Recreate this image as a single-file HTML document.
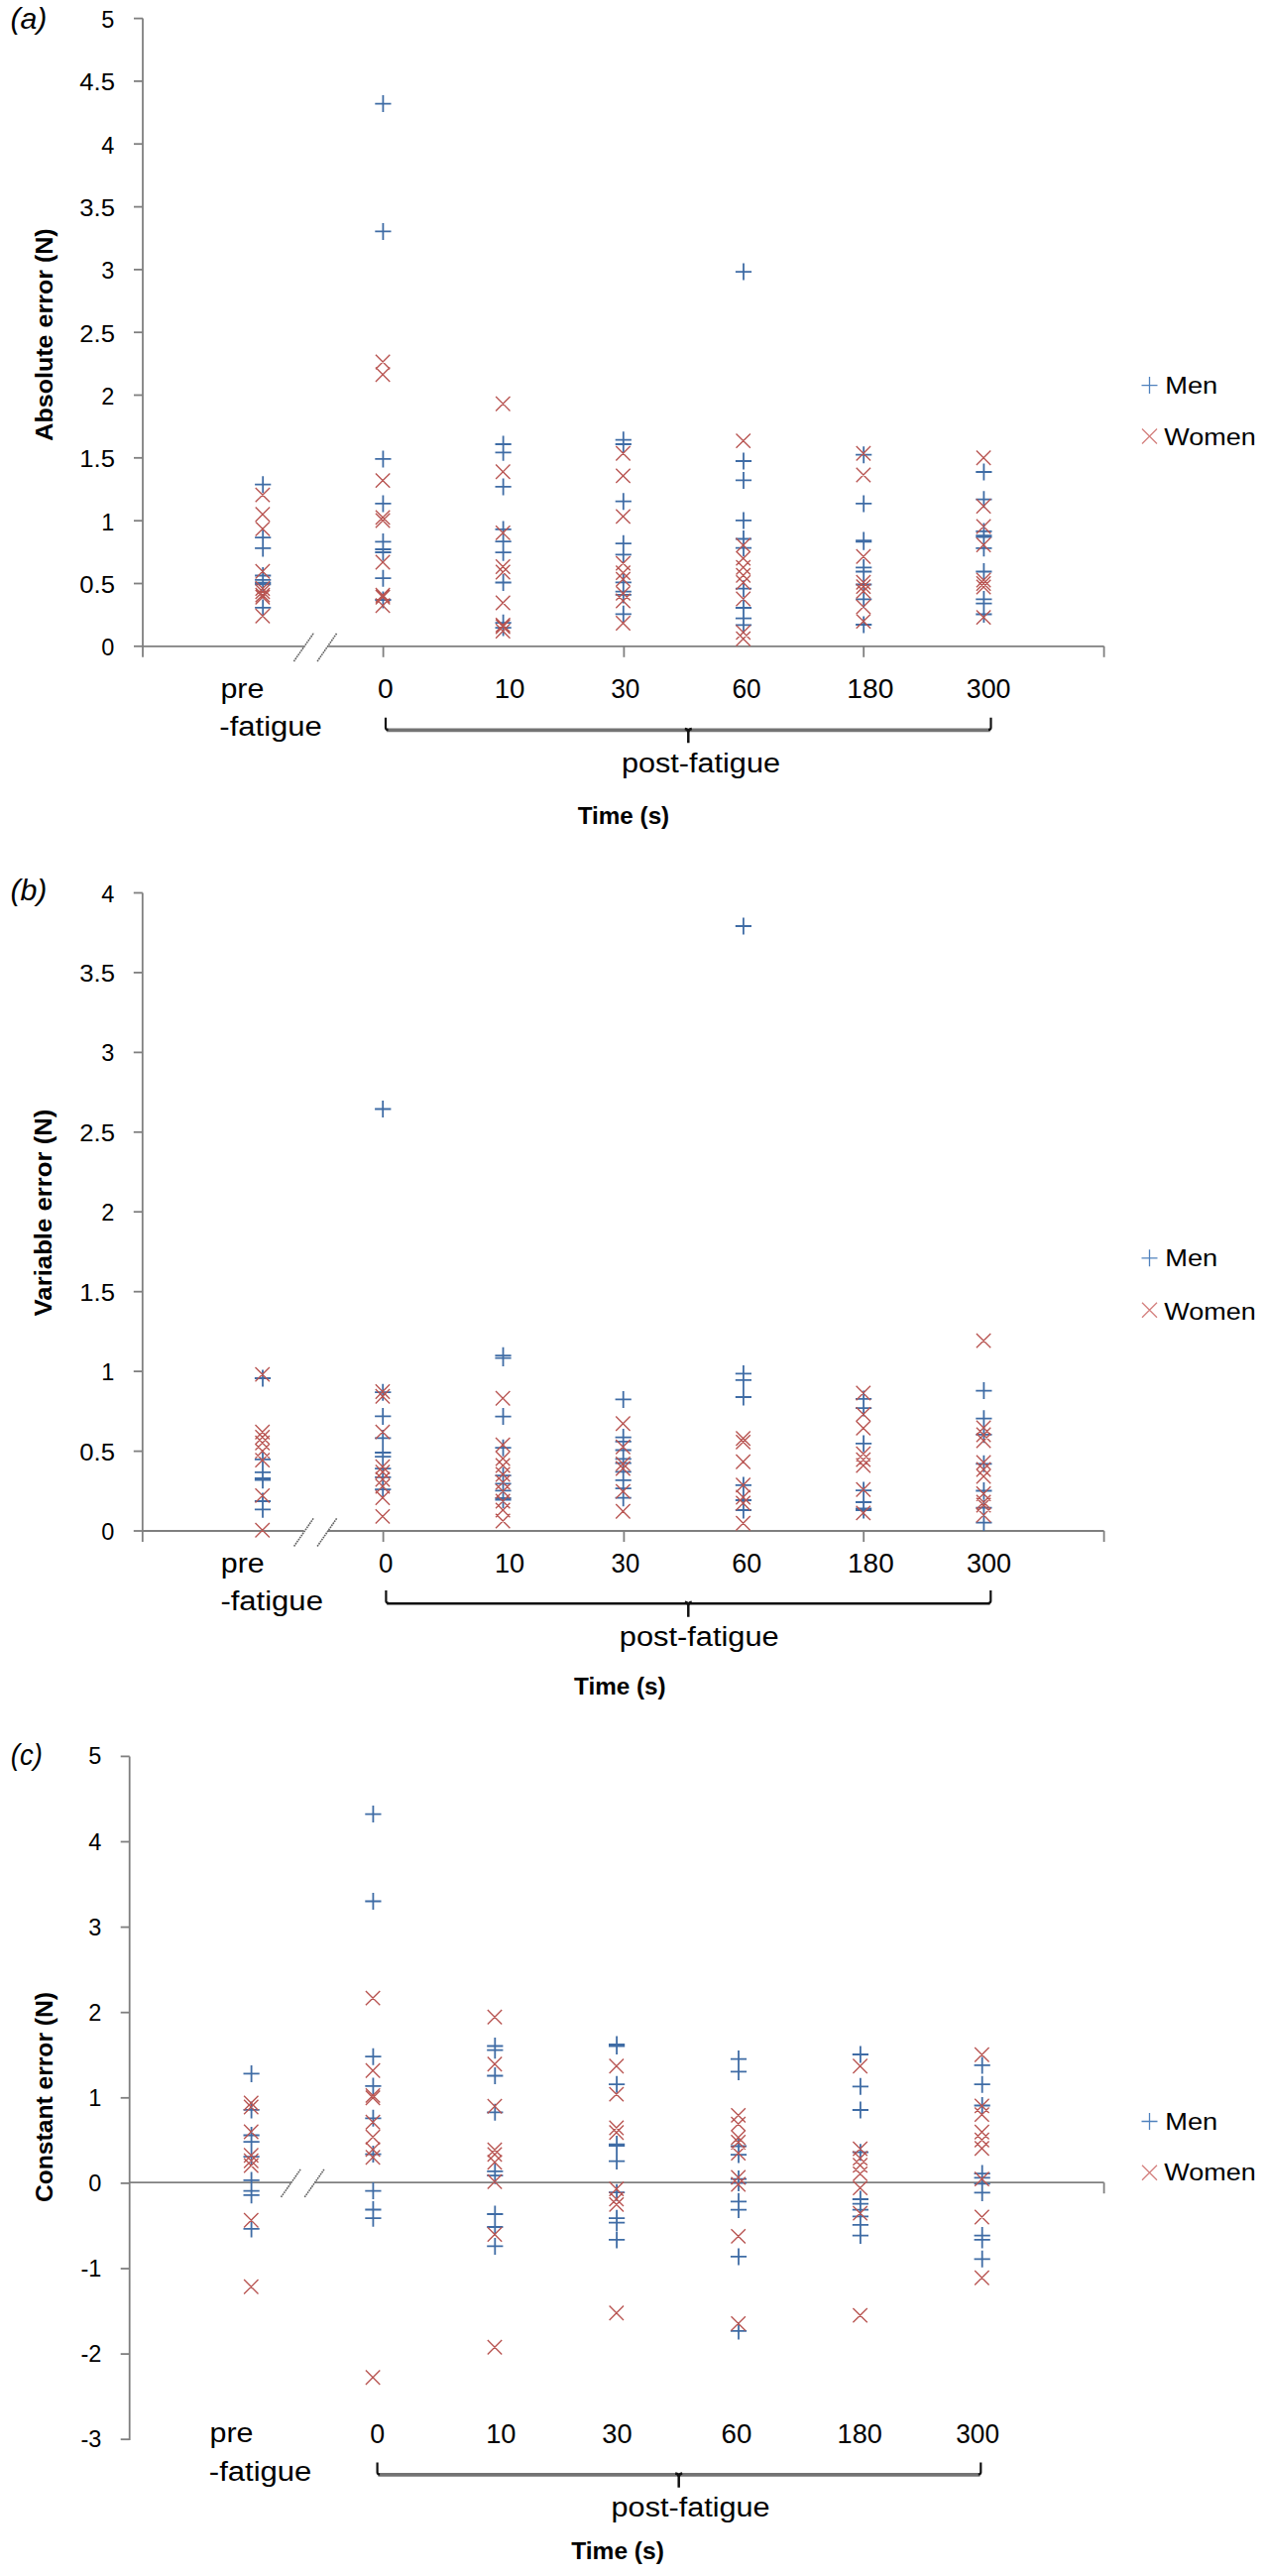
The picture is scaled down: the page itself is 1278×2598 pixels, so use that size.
<!DOCTYPE html>
<html><head><meta charset="utf-8"><title>Figure</title>
<style>html,body{margin:0;padding:0;background:#fff;}svg{display:block;}text{font-family:"Liberation Sans",Arial,sans-serif;fill:#000;}.yt{font-size:23.5px;text-anchor:end;}.xl{font-size:27px;}.ttl{font-size:24.5px;font-weight:bold;}.lg{font-size:23.5px;}.pl{font-size:30px;font-style:italic;}</style></head><body>
<svg width="1278" height="2598" viewBox="0 0 1278 2598">
<rect x="0" y="0" width="1278" height="2598" fill="#fff"/>
<line x1="144" y1="18.6" x2="144" y2="651.8" stroke="#7F7F7F" stroke-width="1.8"/>
<line x1="135" y1="651.8" x2="144" y2="651.8" stroke="#7F7F7F" stroke-width="1.8"/>
<line x1="135" y1="588.5" x2="144" y2="588.5" stroke="#7F7F7F" stroke-width="1.8"/>
<line x1="135" y1="525.2" x2="144" y2="525.2" stroke="#7F7F7F" stroke-width="1.8"/>
<line x1="135" y1="461.8" x2="144" y2="461.8" stroke="#7F7F7F" stroke-width="1.8"/>
<line x1="135" y1="398.5" x2="144" y2="398.5" stroke="#7F7F7F" stroke-width="1.8"/>
<line x1="135" y1="335.2" x2="144" y2="335.2" stroke="#7F7F7F" stroke-width="1.8"/>
<line x1="135" y1="271.9" x2="144" y2="271.9" stroke="#7F7F7F" stroke-width="1.8"/>
<line x1="135" y1="208.6" x2="144" y2="208.6" stroke="#7F7F7F" stroke-width="1.8"/>
<line x1="135" y1="145.2" x2="144" y2="145.2" stroke="#7F7F7F" stroke-width="1.8"/>
<line x1="135" y1="81.9" x2="144" y2="81.9" stroke="#7F7F7F" stroke-width="1.8"/>
<line x1="135" y1="18.6" x2="144" y2="18.6" stroke="#7F7F7F" stroke-width="1.8"/>
<line x1="144" y1="651.8" x2="306.3" y2="651.8" stroke="#7F7F7F" stroke-width="1.8"/>
<line x1="331.2" y1="651.8" x2="1113.6" y2="651.8" stroke="#7F7F7F" stroke-width="1.8"/>
<line x1="144" y1="651.8" x2="144" y2="662.8" stroke="#7F7F7F" stroke-width="1.8"/>
<line x1="386.6" y1="651.8" x2="386.6" y2="662.8" stroke="#7F7F7F" stroke-width="1.8"/>
<line x1="629.4" y1="651.8" x2="629.4" y2="662.8" stroke="#7F7F7F" stroke-width="1.8"/>
<line x1="871.2" y1="651.8" x2="871.2" y2="662.8" stroke="#7F7F7F" stroke-width="1.8"/>
<line x1="1113.6" y1="651.8" x2="1113.6" y2="662.8" stroke="#7F7F7F" stroke-width="1.8"/>
<line x1="296.4" y1="667" x2="316.6" y2="638.2" stroke="#606060" stroke-width="1.6" stroke-dasharray="1.7 0.8"/>
<line x1="320.1" y1="667" x2="339.8" y2="638.5" stroke="#606060" stroke-width="1.6" stroke-dasharray="1.7 0.8"/>
<text class="yt" x="115.3" y="661.3">0</text>
<text class="yt" x="115.9" y="598" textLength="35.6" lengthAdjust="spacingAndGlyphs">0.5</text>
<text class="yt" x="115.3" y="534.7">1</text>
<text class="yt" x="115.9" y="471.3" textLength="35.6" lengthAdjust="spacingAndGlyphs">1.5</text>
<text class="yt" x="115.3" y="408">2</text>
<text class="yt" x="115.9" y="344.7" textLength="35.6" lengthAdjust="spacingAndGlyphs">2.5</text>
<text class="yt" x="115.3" y="281.4">3</text>
<text class="yt" x="115.9" y="218.1" textLength="35.6" lengthAdjust="spacingAndGlyphs">3.5</text>
<text class="yt" x="115.3" y="154.7">4</text>
<text class="yt" x="115.9" y="91.4" textLength="35.6" lengthAdjust="spacingAndGlyphs">4.5</text>
<text class="yt" x="115.3" y="28.1">5</text>
<path d="M257.1,488.7H273.3M265.2,480.2V497.2M257.1,542.1H273.3M265.2,533.6V550.6M257.1,552.9H273.3M265.2,544.4V561.4M257.1,580.5H273.3M265.2,572V589M257.1,584.9H273.3M265.2,576.4V593.4M257.1,587.6H273.3M265.2,579.1V596.1M257.1,589.4H273.3M265.2,580.9V597.9M257.1,612.9H273.3M265.2,604.4V621.4M378.3,104.6H394.5M386.4,96.1V113.1M378.3,233.4H394.5M386.4,224.9V241.9M378.3,462.9H394.5M386.4,454.4V471.4M378.3,507.9H394.5M386.4,499.4V516.4M378.3,546.4H394.5M386.4,537.9V554.9M378.3,554H394.5M386.4,545.5V562.5M378.3,557H394.5M386.4,548.5V565.5M378.3,583.2H394.5M386.4,574.7V591.7M378.3,605H394.5M386.4,596.5V613.5M499.5,448H515.7M507.6,439.5V456.5M499.5,456.3H515.7M507.6,447.8V464.8M499.5,490.9H515.7M507.6,482.4V499.4M499.5,533.9H515.7M507.6,525.4V542.4M499.5,546.2H515.7M507.6,537.7V554.7M499.5,557.2H515.7M507.6,548.7V565.7M499.5,587.5H515.7M507.6,579V596M499.5,628.2H515.7M507.6,619.7V636.7M499.5,633.1H515.7M507.6,624.6V641.6M620.7,443.7H636.9M628.8,435.2V452.2M620.7,448H636.9M628.8,439.5V456.5M620.7,505.7H636.9M628.8,497.2V514.2M620.7,548.2H636.9M628.8,539.7V556.7M620.7,559.4H636.9M628.8,550.9V567.9M620.7,587.3H636.9M628.8,578.8V595.8M620.7,596.6H636.9M628.8,588.1V605.1M620.7,599.9H636.9M628.8,591.4V608.4M620.7,619.3H636.9M628.8,610.8V627.8M741.9,274.1H758.1M750,265.6V282.6M741.9,465H758.1M750,456.5V473.5M741.9,484.4H758.1M750,475.9V492.9M741.9,524.9H758.1M750,516.4V533.4M741.9,543.5H758.1M750,535V552M741.9,552.7H758.1M750,544.2V561.2M741.9,593.7H758.1M750,585.2V602.2M741.9,613H758.1M750,604.5V621.5M741.9,623.7H758.1M750,615.2V632.2M741.9,630.4H758.1M750,621.9V638.9M863.1,458.7H879.3M871.2,450.2V467.2M863.1,507.9H879.3M871.2,499.4V516.4M863.1,545.1H879.3M871.2,536.6V553.6M863.1,546.3H879.3M871.2,537.8V554.8M863.1,572.4H879.3M871.2,563.9V580.9M863.1,576.5H879.3M871.2,568V585M863.1,589.5H879.3M871.2,581V598M863.1,604.4H879.3M871.2,595.9V612.9M863.1,630H879.3M871.2,621.5V638.5M984.3,476H1000.5M992.4,467.5V484.5M984.3,503.7H1000.5M992.4,495.2V512.2M984.3,535.9H1000.5M992.4,527.4V544.4M984.3,540.2H1000.5M992.4,531.7V548.7M984.3,541.6H1000.5M992.4,533.1V550.1M984.3,552.8H1000.5M992.4,544.3V561.3M984.3,576.5H1000.5M992.4,568V585M984.3,604.4H1000.5M992.4,595.9V612.9M984.3,608.7H1000.5M992.4,600.2V617.2M984.3,619.5H1000.5M992.4,611V628" stroke="#3F6CA5" stroke-width="1.8" fill="none"/>
<path d="M257.7,491.9L272.1,506.3M257.7,506.3L272.1,491.9M257.7,511.5L272.1,525.9M257.7,525.9L272.1,511.5M257.7,526.2L272.1,540.6M257.7,540.6L272.1,526.2M257.7,569L272.1,583.4M257.7,583.4L272.1,569M257.7,586.3L272.1,600.7M257.7,600.7L272.1,586.3M257.7,589.5L272.1,603.9M257.7,603.9L272.1,589.5M257.7,592.9L272.1,607.3M257.7,607.3L272.1,592.9M257.7,595L272.1,609.4M257.7,609.4L272.1,595M257.7,614L272.1,628.4M257.7,628.4L272.1,614M378.9,357.8L393.3,372.2M378.9,372.2L393.3,357.8M378.9,370.6L393.3,385M378.9,385L393.3,370.6M378.9,477.4L393.3,491.8M378.9,491.8L393.3,477.4M378.9,514.7L393.3,529.1M378.9,529.1L393.3,514.7M378.9,517.8L393.3,532.2M378.9,532.2L393.3,517.8M378.9,559.8L393.3,574.2M378.9,574.2L393.3,559.8M378.9,593.1L393.3,607.5M378.9,607.5L393.3,593.1M378.9,595.1L393.3,609.5M378.9,609.5L393.3,595.1M378.9,603.6L393.3,618M378.9,618L393.3,603.6M500.1,400L514.5,414.4M500.1,414.4L514.5,400M500.1,468.6L514.5,483M500.1,483L514.5,468.6M500.1,530.2L514.5,544.6M500.1,544.6L514.5,530.2M500.1,564.3L514.5,578.7M500.1,578.7L514.5,564.3M500.1,569.8L514.5,584.2M500.1,584.2L514.5,569.8M500.1,600.8L514.5,615.2M500.1,615.2L514.5,600.8M500.1,623.2L514.5,637.6M500.1,637.6L514.5,623.2M500.1,624.8L514.5,639.2M500.1,639.2L514.5,624.8M500.1,629.3L514.5,643.7M500.1,643.7L514.5,629.3M621.3,450L635.7,464.4M621.3,464.4L635.7,450M621.3,472.7L635.7,487.1M621.3,487.1L635.7,472.7M621.3,513.7L635.7,528.1M621.3,528.1L635.7,513.7M621.3,560.9L635.7,575.3M621.3,575.3L635.7,560.9M621.3,570.4L635.7,584.8M621.3,584.8L635.7,570.4M621.3,577L635.7,591.4M621.3,591.4L635.7,577M621.3,591.2L635.7,605.6M621.3,605.6L635.7,591.2M621.3,598.8L635.7,613.2M621.3,613.2L635.7,598.8M621.3,621.3L635.7,635.7M621.3,635.7L635.7,621.3M742.5,437.4L756.9,451.8M742.5,451.8L756.9,437.4M742.5,542.7L756.9,557.1M742.5,557.1L756.9,542.7M742.5,555.9L756.9,570.3M742.5,570.3L756.9,555.9M742.5,565.1L756.9,579.5M742.5,579.5L756.9,565.1M742.5,573.1L756.9,587.5M742.5,587.5L756.9,573.1M742.5,580.3L756.9,594.7M742.5,594.7L756.9,580.3M742.5,596.8L756.9,611.2M742.5,611.2L756.9,596.8M742.5,630.5L756.9,644.9M742.5,644.9L756.9,630.5M742.5,637L756.9,651.4M742.5,651.4L756.9,637M863.7,450.1L878.1,464.5M863.7,464.5L878.1,450.1M863.7,471.8L878.1,486.2M863.7,486.2L878.1,471.8M863.7,554.1L878.1,568.5M863.7,568.5L878.1,554.1M863.7,580.1L878.1,594.5M863.7,594.5L878.1,580.1M863.7,584.4L878.1,598.8M863.7,598.8L878.1,584.4M863.7,589.1L878.1,603.5M863.7,603.5L878.1,589.1M863.7,604.8L878.1,619.2M863.7,619.2L878.1,604.8M863.7,619.4L878.1,633.8M863.7,633.8L878.1,619.4M984.9,454.6L999.3,469M984.9,469L999.3,454.6M984.9,503.3L999.3,517.7M984.9,517.7L999.3,503.3M984.9,523.8L999.3,538.2M984.9,538.2L999.3,523.8M984.9,542.3L999.3,556.7M984.9,556.7L999.3,542.3M984.9,577.8L999.3,592.2M984.9,592.2L999.3,577.8M984.9,581.3L999.3,595.7M984.9,595.7L999.3,581.3M984.9,584.8L999.3,599.2M984.9,599.2L999.3,584.8M984.9,615.4L999.3,629.8M984.9,629.8L999.3,615.4" stroke="#B85451" stroke-width="1.35" fill="none"/>
<line x1="143.8" y1="900.5" x2="143.8" y2="1544" stroke="#7F7F7F" stroke-width="1.8"/>
<line x1="134.8" y1="1544" x2="143.8" y2="1544" stroke="#7F7F7F" stroke-width="1.8"/>
<line x1="134.8" y1="1463.6" x2="143.8" y2="1463.6" stroke="#7F7F7F" stroke-width="1.8"/>
<line x1="134.8" y1="1383.1" x2="143.8" y2="1383.1" stroke="#7F7F7F" stroke-width="1.8"/>
<line x1="134.8" y1="1302.7" x2="143.8" y2="1302.7" stroke="#7F7F7F" stroke-width="1.8"/>
<line x1="134.8" y1="1222.2" x2="143.8" y2="1222.2" stroke="#7F7F7F" stroke-width="1.8"/>
<line x1="134.8" y1="1141.8" x2="143.8" y2="1141.8" stroke="#7F7F7F" stroke-width="1.8"/>
<line x1="134.8" y1="1061.4" x2="143.8" y2="1061.4" stroke="#7F7F7F" stroke-width="1.8"/>
<line x1="134.8" y1="980.9" x2="143.8" y2="980.9" stroke="#7F7F7F" stroke-width="1.8"/>
<line x1="134.8" y1="900.5" x2="143.8" y2="900.5" stroke="#7F7F7F" stroke-width="1.8"/>
<line x1="143.8" y1="1544" x2="306.5" y2="1544" stroke="#7F7F7F" stroke-width="1.8"/>
<line x1="330.8" y1="1544" x2="1113.6" y2="1544" stroke="#7F7F7F" stroke-width="1.8"/>
<line x1="143.8" y1="1544" x2="143.8" y2="1555" stroke="#7F7F7F" stroke-width="1.8"/>
<line x1="386.6" y1="1544" x2="386.6" y2="1555" stroke="#7F7F7F" stroke-width="1.8"/>
<line x1="629.4" y1="1544" x2="629.4" y2="1555" stroke="#7F7F7F" stroke-width="1.8"/>
<line x1="871.2" y1="1544" x2="871.2" y2="1555" stroke="#7F7F7F" stroke-width="1.8"/>
<line x1="1113.6" y1="1544" x2="1113.6" y2="1555" stroke="#7F7F7F" stroke-width="1.8"/>
<line x1="296.6" y1="1559.5" x2="316.2" y2="1531.3" stroke="#606060" stroke-width="1.6" stroke-dasharray="1.7 0.8"/>
<line x1="320.1" y1="1559.5" x2="339.7" y2="1531.3" stroke="#606060" stroke-width="1.6" stroke-dasharray="1.7 0.8"/>
<text class="yt" x="115.3" y="1553">0</text>
<text class="yt" x="115.9" y="1472.6" textLength="35.6" lengthAdjust="spacingAndGlyphs">0.5</text>
<text class="yt" x="115.3" y="1392.1">1</text>
<text class="yt" x="115.9" y="1311.7" textLength="35.6" lengthAdjust="spacingAndGlyphs">1.5</text>
<text class="yt" x="115.3" y="1231.2">2</text>
<text class="yt" x="115.9" y="1150.8" textLength="35.6" lengthAdjust="spacingAndGlyphs">2.5</text>
<text class="yt" x="115.3" y="1070.4">3</text>
<text class="yt" x="115.9" y="989.9" textLength="35.6" lengthAdjust="spacingAndGlyphs">3.5</text>
<text class="yt" x="115.3" y="909.5">4</text>
<path d="M256.9,1390H273.1M265,1381.5V1398.5M256.9,1471.8H273.1M265,1463.3V1480.3M256.9,1484.9H273.1M265,1476.4V1493.4M256.9,1490.8H273.1M265,1482.3V1499.3M256.9,1492.7H273.1M265,1484.2V1501.2M256.9,1514H273.1M265,1505.5V1522.5M256.9,1522.3H273.1M265,1513.8V1530.8M378.1,1118.5H394.4M386.2,1110V1127M378.1,1404.2H394.4M386.2,1395.7V1412.7M378.1,1428.4H394.4M386.2,1419.9V1436.9M378.1,1450.4H394.4M386.2,1441.9V1458.9M378.1,1465H394.4M386.2,1456.5V1473.5M378.1,1469.2H394.4M386.2,1460.7V1477.7M378.1,1481.1H394.4M386.2,1472.6V1489.6M378.1,1489.8H394.4M386.2,1481.3V1498.3M378.1,1502.1H394.4M386.2,1493.6V1510.6M499.4,1367.2H515.6M507.5,1358.7V1375.7M499.4,1369.6H515.6M507.5,1361.1V1378.1M499.4,1428.6H515.6M507.5,1420.1V1437.1M499.4,1460.2H515.6M507.5,1451.7V1468.7M499.4,1488.2H515.6M507.5,1479.7V1496.7M499.4,1496.3H515.6M507.5,1487.8V1504.8M499.4,1503.4H515.6M507.5,1494.9V1511.9M499.4,1511H515.6M507.5,1502.5V1519.5M499.4,1512.5H515.6M507.5,1504V1521M620.6,1411.4H636.8M628.7,1402.9V1419.9M620.6,1449.6H636.8M628.7,1441.1V1458.1M620.6,1453.9H636.8M628.7,1445.4V1462.4M620.6,1462.5H636.8M628.7,1454V1471M620.6,1471.4H636.8M628.7,1462.9V1479.9M620.6,1475.7H636.8M628.7,1467.2V1484.2M620.6,1484.3H636.8M628.7,1475.8V1492.8M620.6,1492.9H636.8M628.7,1484.4V1501.4M620.6,1501.1H636.8M628.7,1492.6V1509.6M620.6,1510.7H636.8M628.7,1502.2V1519.2M741.8,934H758M749.9,925.5V942.5M741.8,1385.4H758M749.9,1376.9V1393.9M741.8,1391.9H758M749.9,1383.4V1400.4M741.8,1409H758M749.9,1400.5V1417.5M741.8,1497.9H758M749.9,1489.4V1506.4M741.8,1513H758M749.9,1504.5V1521.5M741.8,1523H758M749.9,1514.5V1531.5M863,1410.9H879.2M871.1,1402.4V1419.4M863,1420.1H879.2M871.1,1411.6V1428.6M863,1455.9H879.2M871.1,1447.4V1464.4M863,1503.1H879.2M871.1,1494.6V1511.6M863,1515H879.2M871.1,1506.5V1523.5M863,1521.4H879.2M871.1,1512.9V1529.9M863,1523H879.2M871.1,1514.5V1531.5M984.3,1402.6H1000.5M992.4,1394.1V1411.1M984.3,1430.7H1000.5M992.4,1422.2V1439.2M984.3,1446.8H1000.5M992.4,1438.3V1455.3M984.3,1476.3H1000.5M992.4,1467.8V1484.8M984.3,1503.5H1000.5M992.4,1495V1512M984.3,1520.7H1000.5M992.4,1512.2V1529.2M984.3,1535.6H1000.5M992.4,1527.1V1544.1" stroke="#3F6CA5" stroke-width="1.8" fill="none"/>
<path d="M257.5,1378.9L271.9,1393.3M257.5,1393.3L271.9,1378.9M257.5,1437L271.9,1451.4M257.5,1451.4L271.9,1437M257.5,1442.3L271.9,1456.7M257.5,1456.7L271.9,1442.3M257.5,1448.1L271.9,1462.5M257.5,1462.5L271.9,1448.1M257.5,1456.3L271.9,1470.7M257.5,1470.7L271.9,1456.3M257.5,1465.4L271.9,1479.8M257.5,1479.8L271.9,1465.4M257.5,1501.2L271.9,1515.6M257.5,1515.6L271.9,1501.2M257.5,1536.1L271.9,1550.5M257.5,1550.5L271.9,1536.1M378.8,1396.3L393.1,1410.7M378.8,1410.7L393.1,1396.3M378.8,1401L393.1,1415.4M378.8,1415.4L393.1,1401M378.8,1436.9L393.1,1451.3M378.8,1451.3L393.1,1436.9M378.8,1472.1L393.1,1486.5M378.8,1486.5L393.1,1472.1M378.8,1477.4L393.1,1491.8M378.8,1491.8L393.1,1477.4M378.8,1484.8L393.1,1499.2M378.8,1499.2L393.1,1484.8M378.8,1491.8L393.1,1506.2M378.8,1506.2L393.1,1491.8M378.8,1503.3L393.1,1517.7M378.8,1517.7L393.1,1503.3M378.8,1522.2L393.1,1536.6M378.8,1536.6L393.1,1522.2M500,1403L514.4,1417.4M500,1417.4L514.4,1403M500,1449.9L514.4,1464.3M500,1464.3L514.4,1449.9M500,1463.8L514.4,1478.2M500,1478.2L514.4,1463.8M500,1470.8L514.4,1485.2M500,1485.2L514.4,1470.8M500,1479.8L514.4,1494.2M500,1494.2L514.4,1479.8M500,1487.8L514.4,1502.2M500,1502.2L514.4,1487.8M500,1496.8L514.4,1511.2M500,1511.2L514.4,1496.8M500,1506.8L514.4,1521.2M500,1521.2L514.4,1506.8M500,1515.8L514.4,1530.2M500,1530.2L514.4,1515.8M500,1526.8L514.4,1541.2M500,1541.2L514.4,1526.8M621.2,1428.6L635.6,1443M621.2,1443L635.6,1428.6M621.2,1452L635.6,1466.4M621.2,1466.4L635.6,1452M621.2,1469.2L635.6,1483.6M621.2,1483.6L635.6,1469.2M621.2,1473.8L635.6,1488.2M621.2,1488.2L635.6,1473.8M621.2,1496.9L635.6,1511.3M621.2,1511.3L635.6,1496.9M621.2,1517L635.6,1531.4M621.2,1531.4L635.6,1517M742.4,1443.5L756.8,1457.9M742.4,1457.9L756.8,1443.5M742.4,1447.2L756.8,1461.6M742.4,1461.6L756.8,1447.2M742.4,1467.1L756.8,1481.5M742.4,1481.5L756.8,1467.1M742.4,1490.6L756.8,1505M742.4,1505L756.8,1490.6M742.4,1502.8L756.8,1517.2M742.4,1517.2L756.8,1502.8M742.4,1508.8L756.8,1523.2M742.4,1523.2L756.8,1508.8M742.4,1529.1L756.8,1543.5M742.4,1543.5L756.8,1529.1M863.6,1397.8L878,1412.2M863.6,1412.2L878,1397.8M863.6,1419.2L878,1433.6M863.6,1433.6L878,1419.2M863.6,1433.2L878,1447.6M863.6,1447.6L878,1433.2M863.6,1459L878,1473.4M863.6,1473.4L878,1459M863.6,1464.9L878,1479.3M863.6,1479.3L878,1464.9M863.6,1470.8L878,1485.2M863.6,1485.2L878,1470.8M863.6,1495.1L878,1509.5M863.6,1509.5L878,1495.1M863.6,1518.7L878,1533.1M863.6,1533.1L878,1518.7M984.9,1344.9L999.3,1359.3M984.9,1359.3L999.3,1344.9M984.9,1432.8L999.3,1447.2M984.9,1447.2L999.3,1432.8M984.9,1439.8L999.3,1454.2M984.9,1454.2L999.3,1439.8M984.9,1445.8L999.3,1460.2M984.9,1460.2L999.3,1445.8M984.9,1467.8L999.3,1482.2M984.9,1482.2L999.3,1467.8M984.9,1474.8L999.3,1489.2M984.9,1489.2L999.3,1474.8M984.9,1481.8L999.3,1496.2M984.9,1496.2L999.3,1481.8M984.9,1499.3L999.3,1513.7M984.9,1513.7L999.3,1499.3M984.9,1507.8L999.3,1522.2M984.9,1522.2L999.3,1507.8M984.9,1510.8L999.3,1525.2M984.9,1525.2L999.3,1510.8M984.9,1520.8L999.3,1535.2M984.9,1535.2L999.3,1520.8" stroke="#B85451" stroke-width="1.35" fill="none"/>
<line x1="130.7" y1="1771.4" x2="130.7" y2="2461.1" stroke="#7F7F7F" stroke-width="1.8"/>
<line x1="121.7" y1="2460.2" x2="130.7" y2="2460.2" stroke="#7F7F7F" stroke-width="1.8"/>
<line x1="121.7" y1="2374.1" x2="130.7" y2="2374.1" stroke="#7F7F7F" stroke-width="1.8"/>
<line x1="121.7" y1="2288" x2="130.7" y2="2288" stroke="#7F7F7F" stroke-width="1.8"/>
<line x1="121.7" y1="2201.9" x2="130.7" y2="2201.9" stroke="#7F7F7F" stroke-width="1.8"/>
<line x1="121.7" y1="2115.8" x2="130.7" y2="2115.8" stroke="#7F7F7F" stroke-width="1.8"/>
<line x1="121.7" y1="2029.7" x2="130.7" y2="2029.7" stroke="#7F7F7F" stroke-width="1.8"/>
<line x1="121.7" y1="1943.6" x2="130.7" y2="1943.6" stroke="#7F7F7F" stroke-width="1.8"/>
<line x1="121.7" y1="1857.5" x2="130.7" y2="1857.5" stroke="#7F7F7F" stroke-width="1.8"/>
<line x1="121.7" y1="1771.4" x2="130.7" y2="1771.4" stroke="#7F7F7F" stroke-width="1.8"/>
<line x1="130.7" y1="2201.2" x2="293.8" y2="2201.2" stroke="#7F7F7F" stroke-width="1.8"/>
<line x1="317.5" y1="2201.2" x2="1113.6" y2="2201.2" stroke="#7F7F7F" stroke-width="1.8"/>
<line x1="1113.6" y1="2201.2" x2="1113.6" y2="2212.2" stroke="#7F7F7F" stroke-width="1.8"/>
<line x1="283.5" y1="2215.9" x2="303.1" y2="2188" stroke="#606060" stroke-width="1.6" stroke-dasharray="1.7 0.8"/>
<line x1="307.3" y1="2215.9" x2="326.9" y2="2188" stroke="#606060" stroke-width="1.6" stroke-dasharray="1.7 0.8"/>
<text class="yt" x="102.3" y="2468.2">-3</text>
<text class="yt" x="102.3" y="2382.1">-2</text>
<text class="yt" x="102.3" y="2296">-1</text>
<text class="yt" x="102.3" y="2209.9">0</text>
<text class="yt" x="102.3" y="2123.8">1</text>
<text class="yt" x="102.3" y="2037.7">2</text>
<text class="yt" x="102.3" y="1951.6">3</text>
<text class="yt" x="102.3" y="1865.5">4</text>
<text class="yt" x="102.3" y="1779.4">5</text>
<path d="M245.5,2091.4H261.7M253.6,2082.9V2099.9M245.5,2127.9H261.7M253.6,2119.4V2136.4M245.5,2153.5H261.7M253.6,2145V2162M245.5,2160.2H261.7M253.6,2151.7V2168.7M245.5,2175.2H261.7M253.6,2166.7V2183.7M245.5,2198.9H261.7M253.6,2190.4V2207.4M245.5,2209.6H261.7M253.6,2201.1V2218.1M245.5,2213.8H261.7M253.6,2205.3V2222.3M245.5,2247.9H261.7M253.6,2239.4V2256.4M368.3,1829.6H384.5M376.4,1821.1V1838.1M368.3,1917.5H384.5M376.4,1909V1926M368.3,2074.2H384.5M376.4,2065.7V2082.7M368.3,2103.9H384.5M376.4,2095.4V2112.4M368.3,2136.3H384.5M376.4,2127.8V2144.8M368.3,2172.6H384.5M376.4,2164.1V2181.1M368.3,2209.6H384.5M376.4,2201.1V2218.1M368.3,2228.5H384.5M376.4,2220V2237M368.3,2237.2H384.5M376.4,2228.7V2245.7M491.2,2063.5H507.4M499.3,2055V2072M491.2,2067.7H507.4M499.3,2059.2V2076.2M491.2,2093.5H507.4M499.3,2085V2102M491.2,2130.3H507.4M499.3,2121.8V2138.8M491.2,2189.8H507.4M499.3,2181.3V2198.3M491.2,2194.2H507.4M499.3,2185.7V2202.7M491.2,2233H507.4M499.3,2224.5V2241.5M491.2,2246H507.4M499.3,2237.5V2254.5M491.2,2265.4H507.4M499.3,2256.9V2273.9M614,2062H630.2M622.1,2053.5V2070.5M614,2063.5H630.2M622.1,2055V2072M614,2102.2H630.2M622.1,2093.7V2110.7M614,2162.6H630.2M622.1,2154.1V2171.1M614,2164.2H630.2M622.1,2155.7V2172.7M614,2179.6H630.2M622.1,2171.1V2188.1M614,2211.2H630.2M622.1,2202.7V2219.7M614,2237.2H630.2M622.1,2228.7V2245.7M614,2241.6H630.2M622.1,2233.1V2250.1M614,2258.9H630.2M622.1,2250.4V2267.4M736.9,2076.6H753.1M745,2068.1V2085.1M736.9,2089.4H753.1M745,2080.9V2097.9M736.9,2164.5H753.1M745,2156V2173M736.9,2173.1H753.1M745,2164.6V2181.6M736.9,2197.6H753.1M745,2189.1V2206.1M736.9,2201.6H753.1M745,2193.1V2210.1M736.9,2220.3H753.1M745,2211.8V2228.8M736.9,2228.6H753.1M745,2220.1V2237.1M736.9,2275.9H753.1M745,2267.4V2284.4M736.9,2350.9H753.1M745,2342.4V2359.4M859.8,2072H876M867.9,2063.5V2080.5M859.8,2104.3H876M867.9,2095.8V2112.8M859.8,2128H876M867.9,2119.5V2136.5M859.8,2170.7H876M867.9,2162.2V2179.2M859.8,2218H876M867.9,2209.5V2226.5M859.8,2222.7H876M867.9,2214.2V2231.2M859.8,2228.6H876M867.9,2220.1V2237.1M859.8,2235.3H876M867.9,2226.8V2243.8M859.8,2243.9H876M867.9,2235.4V2252.4M859.8,2254.6H876M867.9,2246.1V2263.1M982.6,2082.9H998.8M990.7,2074.4V2091.4M982.6,2102.2H998.8M990.7,2093.7V2110.7M982.6,2123.5H998.8M990.7,2115V2132M982.6,2192.1H998.8M990.7,2183.6V2200.6M982.6,2196.4H998.8M990.7,2187.9V2204.9M982.6,2202.4H998.8M990.7,2193.9V2210.9M982.6,2211.4H998.8M990.7,2202.9V2219.9M982.6,2254.6H998.8M990.7,2246.1V2263.1M982.6,2258.9H998.8M990.7,2250.4V2267.4M982.6,2278.3H998.8M990.7,2269.8V2286.8" stroke="#3F6CA5" stroke-width="1.8" fill="none"/>
<path d="M246.1,2113.8L260.5,2128.2M246.1,2128.2L260.5,2113.8M246.1,2117.8L260.5,2132.2M246.1,2132.2L260.5,2117.8M246.1,2142.8L260.5,2157.2M246.1,2157.2L260.5,2142.8M246.1,2166.5L260.5,2180.9M246.1,2180.9L260.5,2166.5M246.1,2172L260.5,2186.4M246.1,2186.4L260.5,2172M246.1,2176.8L260.5,2191.2M246.1,2191.2L260.5,2176.8M246.1,2232L260.5,2246.4M246.1,2246.4L260.5,2232M246.1,2299.1L260.5,2313.5M246.1,2313.5L260.5,2299.1M368.9,2007.9L383.3,2022.3M368.9,2022.3L383.3,2007.9M368.9,2081L383.3,2095.4M368.9,2095.4L383.3,2081M368.9,2106.2L383.3,2120.6M368.9,2120.6L383.3,2106.2M368.9,2108.6L383.3,2123M368.9,2123L383.3,2108.6M368.9,2133L383.3,2147.4M368.9,2147.4L383.3,2133M368.9,2148L383.3,2162.4M368.9,2162.4L383.3,2148M368.9,2160.7L383.3,2175.1M368.9,2175.1L383.3,2160.7M368.9,2168.6L383.3,2183M368.9,2183L383.3,2168.6M368.9,2390.6L383.3,2405M368.9,2405L383.3,2390.6M491.8,2027.1L506.2,2041.5M491.8,2041.5L506.2,2027.1M491.8,2074.5L506.2,2088.9M491.8,2088.9L506.2,2074.5M491.8,2117.1L506.2,2131.5M491.8,2131.5L506.2,2117.1M491.8,2160.9L506.2,2175.3M491.8,2175.3L506.2,2160.9M491.8,2165.7L506.2,2180.1M491.8,2180.1L506.2,2165.7M491.8,2173.6L506.2,2188M491.8,2188L506.2,2173.6M491.8,2193.1L506.2,2207.5M491.8,2207.5L506.2,2193.1M491.8,2246.3L506.2,2260.7M491.8,2260.7L506.2,2246.3M491.8,2360L506.2,2374.4M491.8,2374.4L506.2,2360M614.6,2076.5L629,2090.9M614.6,2090.9L629,2076.5M614.6,2104.9L629,2119.3M614.6,2119.3L629,2104.9M614.6,2138.8L629,2153.2M614.6,2153.2L629,2138.8M614.6,2143.6L629,2158M614.6,2158L629,2143.6M614.6,2200.4L629,2214.8M614.6,2214.8L629,2200.4M614.6,2210.7L629,2225.1M614.6,2225.1L629,2210.7M614.6,2216.2L629,2230.6M614.6,2230.6L629,2216.2M614.6,2325.5L629,2339.9M614.6,2339.9L629,2325.5M737.5,2126.2L751.9,2140.6M737.5,2140.6L751.9,2126.2M737.5,2134.9L751.9,2149.3M737.5,2149.3L751.9,2134.9M737.5,2148.6L751.9,2163M737.5,2163L751.9,2148.6M737.5,2153.3L751.9,2167.7M737.5,2167.7L751.9,2153.3M737.5,2164.4L751.9,2178.8M737.5,2178.8L751.9,2164.4M737.5,2188.8L751.9,2203.2M737.5,2203.2L751.9,2188.8M737.5,2195.8L751.9,2210.2M737.5,2210.2L751.9,2195.8M737.5,2248.2L751.9,2262.6M737.5,2262.6L751.9,2248.2M737.5,2336.2L751.9,2350.6M737.5,2350.6L751.9,2336.2M860.4,2076.6L874.8,2091M860.4,2091L874.8,2076.6M860.4,2159.9L874.8,2174.3M860.4,2174.3L874.8,2159.9M860.4,2169.4L874.8,2183.8M860.4,2183.8L874.8,2169.4M860.4,2176.5L874.8,2190.9M860.4,2190.9L874.8,2176.5M860.4,2185.2L874.8,2199.6M860.4,2199.6L874.8,2185.2M860.4,2199.4L874.8,2213.8M860.4,2213.8L874.8,2199.4M860.4,2224.9L874.8,2239.3M860.4,2239.3L874.8,2224.9M860.4,2327.9L874.8,2342.3M860.4,2342.3L874.8,2327.9M983.2,2065L997.6,2079.4M983.2,2079.4L997.6,2065M983.2,2116.7L997.6,2131.1M983.2,2131.1L997.6,2116.7M983.2,2125.4L997.6,2139.8M983.2,2139.8L997.6,2125.4M983.2,2143.1L997.6,2157.5M983.2,2157.5L997.6,2143.1M983.2,2151L997.6,2165.4M983.2,2165.4L997.6,2151M983.2,2159.6L997.6,2174M983.2,2174L997.6,2159.6M983.2,2190.4L997.6,2204.8M983.2,2204.8L997.6,2190.4M983.2,2228.8L997.6,2243.2M983.2,2243.2L997.6,2228.8M983.2,2290L997.6,2304.4M983.2,2304.4L997.6,2290" stroke="#B85451" stroke-width="1.35" fill="none"/>
<text class="pl" x="10.4" y="28.8" textLength="37" lengthAdjust="spacingAndGlyphs">(a)</text>
<text class="xl" x="222.4" y="703.9" textLength="44" lengthAdjust="spacingAndGlyphs">pre</text>
<text class="xl" x="221.3" y="742.3" textLength="103.5" lengthAdjust="spacingAndGlyphs">-fatigue</text>
<text class="xl" x="380.9" y="704.3" textLength="15.7" lengthAdjust="spacingAndGlyphs">0</text>
<text class="xl" x="498.7" y="704.3" textLength="30.8" lengthAdjust="spacingAndGlyphs">10</text>
<text class="xl" x="616.2" y="704.3" textLength="29.2" lengthAdjust="spacingAndGlyphs">30</text>
<text class="xl" x="738.5" y="704.3" textLength="29.2" lengthAdjust="spacingAndGlyphs">60</text>
<text class="xl" x="854.3" y="704.3" textLength="47.1" lengthAdjust="spacingAndGlyphs">180</text>
<text class="xl" x="974.8" y="704.3" textLength="44.7" lengthAdjust="spacingAndGlyphs">300</text>
<line x1="389.8" y1="736.4" x2="998.7" y2="736.4" stroke="#737373" stroke-width="3.6"/>
<path d="M389,723.8 V733.9 Q389,735.9 391.5,735.9" fill="none" stroke="#111" stroke-width="2.2"/>
<path d="M999.5,723.8 V733.9 Q999.5,735.9 997,735.9" fill="none" stroke="#111" stroke-width="2.2"/>
<path d="M690.8,734.9 Q694.3,735.4 694.3,738.4 V749.2 M697.8,734.9 Q694.3,735.4 694.3,738.4" fill="none" stroke="#111" stroke-width="2.5"/>
<text class="xl" x="626.9" y="778.9" textLength="160.1" lengthAdjust="spacingAndGlyphs">post-fatigue</text>
<text class="ttl" x="582.7" y="830.8" textLength="92.5" lengthAdjust="spacingAndGlyphs">Time (s)</text>
<text class="ttl" text-anchor="middle" transform="translate(52.8,337.5) rotate(-90)" textLength="214.4" lengthAdjust="spacingAndGlyphs">Absolute error (N)</text>
<path d="M1151.5,388.6H1167.5M1159.5,380.1V397.1" stroke="#4F81BD" stroke-width="1.3" fill="none"/>
<path d="M1152,432.5L1167,447.5M1152,447.5L1167,432.5" stroke="#D47F7D" stroke-width="1.3" fill="none"/>
<text class="lg" x="1175.2" y="397.1" textLength="53" lengthAdjust="spacingAndGlyphs">Men</text>
<text class="lg" x="1174.3" y="448.5" textLength="92.5" lengthAdjust="spacingAndGlyphs">Women</text>
<text class="pl" x="10.4" y="908.4" textLength="37" lengthAdjust="spacingAndGlyphs">(b)</text>
<text class="xl" x="222.8" y="1585.8" textLength="44" lengthAdjust="spacingAndGlyphs">pre</text>
<text class="xl" x="222.4" y="1624.3" textLength="103.5" lengthAdjust="spacingAndGlyphs">-fatigue</text>
<text class="xl" x="382.1" y="1586.2" textLength="14.4" lengthAdjust="spacingAndGlyphs">0</text>
<text class="xl" x="498.9" y="1586.2" textLength="30.2" lengthAdjust="spacingAndGlyphs">10</text>
<text class="xl" x="616.6" y="1586.2" textLength="28.6" lengthAdjust="spacingAndGlyphs">30</text>
<text class="xl" x="738.3" y="1586.2" textLength="29.9" lengthAdjust="spacingAndGlyphs">60</text>
<text class="xl" x="855.1" y="1586.2" textLength="46.6" lengthAdjust="spacingAndGlyphs">180</text>
<text class="xl" x="975" y="1586.2" textLength="45.1" lengthAdjust="spacingAndGlyphs">300</text>
<line x1="390.2" y1="1617.2" x2="998.5" y2="1617.2" stroke="#111" stroke-width="2.4"/>
<path d="M389.4,1603.9 V1614.7 Q389.4,1616.7 391.9,1616.7" fill="none" stroke="#111" stroke-width="2.2"/>
<path d="M999.3,1603.9 V1614.7 Q999.3,1616.7 996.8,1616.7" fill="none" stroke="#111" stroke-width="2.2"/>
<path d="M690.8,1615.7 Q694.3,1616.2 694.3,1619.2 V1630.8 M697.8,1615.7 Q694.3,1616.2 694.3,1619.2" fill="none" stroke="#111" stroke-width="2.5"/>
<text class="xl" x="624.8" y="1660.4" textLength="160.9" lengthAdjust="spacingAndGlyphs">post-fatigue</text>
<text class="ttl" x="579" y="1709.4" textLength="92.7" lengthAdjust="spacingAndGlyphs">Time (s)</text>
<text class="ttl" text-anchor="middle" transform="translate(52,1223) rotate(-90)" textLength="208.8" lengthAdjust="spacingAndGlyphs">Variable error (N)</text>
<path d="M1151.5,1268.8H1167.5M1159.5,1260.3V1277.3" stroke="#4F81BD" stroke-width="1.3" fill="none"/>
<path d="M1152,1313.7L1167,1328.7M1152,1328.7L1167,1313.7" stroke="#D47F7D" stroke-width="1.3" fill="none"/>
<text class="lg" x="1175.2" y="1277.1" textLength="53" lengthAdjust="spacingAndGlyphs">Men</text>
<text class="lg" x="1174.3" y="1330.5" textLength="92.5" lengthAdjust="spacingAndGlyphs">Women</text>
<text class="pl" x="10.8" y="1779.9" textLength="32" lengthAdjust="spacingAndGlyphs">(c)</text>
<text class="xl" x="211.5" y="2463.1" textLength="44" lengthAdjust="spacingAndGlyphs">pre</text>
<text class="xl" x="210.8" y="2501.9" textLength="103.5" lengthAdjust="spacingAndGlyphs">-fatigue</text>
<text class="xl" x="373.3" y="2463.6" textLength="14.9" lengthAdjust="spacingAndGlyphs">0</text>
<text class="xl" x="490.2" y="2463.6" textLength="30.3" lengthAdjust="spacingAndGlyphs">10</text>
<text class="xl" x="607.3" y="2463.6" textLength="30.3" lengthAdjust="spacingAndGlyphs">30</text>
<text class="xl" x="727.6" y="2463.6" textLength="30.8" lengthAdjust="spacingAndGlyphs">60</text>
<text class="xl" x="844.6" y="2463.6" textLength="45.3" lengthAdjust="spacingAndGlyphs">180</text>
<text class="xl" x="964.3" y="2463.6" textLength="43.7" lengthAdjust="spacingAndGlyphs">300</text>
<line x1="381.4" y1="2495.9" x2="988.5" y2="2495.9" stroke="#737373" stroke-width="3.6"/>
<path d="M380.6,2483.6 V2493.4 Q380.6,2495.4 383.1,2495.4" fill="none" stroke="#111" stroke-width="2.2"/>
<path d="M989.3,2483.6 V2493.4 Q989.3,2495.4 986.8,2495.4" fill="none" stroke="#111" stroke-width="2.2"/>
<path d="M681.2,2494.4 Q684.7,2494.9 684.7,2497.9 V2508.8 M688.2,2494.4 Q684.7,2494.9 684.7,2497.9" fill="none" stroke="#111" stroke-width="2.5"/>
<text class="xl" x="616.6" y="2538.1" textLength="160" lengthAdjust="spacingAndGlyphs">post-fatigue</text>
<text class="ttl" x="576.2" y="2580.8" textLength="93.7" lengthAdjust="spacingAndGlyphs">Time (s)</text>
<text class="ttl" text-anchor="middle" transform="translate(52.8,2115) rotate(-90)" textLength="212" lengthAdjust="spacingAndGlyphs">Constant error (N)</text>
<path d="M1151.5,2139.5H1167.5M1159.5,2131V2148" stroke="#4F81BD" stroke-width="1.3" fill="none"/>
<path d="M1152,2183.7L1167,2198.7M1152,2198.7L1167,2183.7" stroke="#D47F7D" stroke-width="1.3" fill="none"/>
<text class="lg" x="1175.2" y="2148" textLength="53" lengthAdjust="spacingAndGlyphs">Men</text>
<text class="lg" x="1174.3" y="2199.4" textLength="92.5" lengthAdjust="spacingAndGlyphs">Women</text>
</svg></body></html>
